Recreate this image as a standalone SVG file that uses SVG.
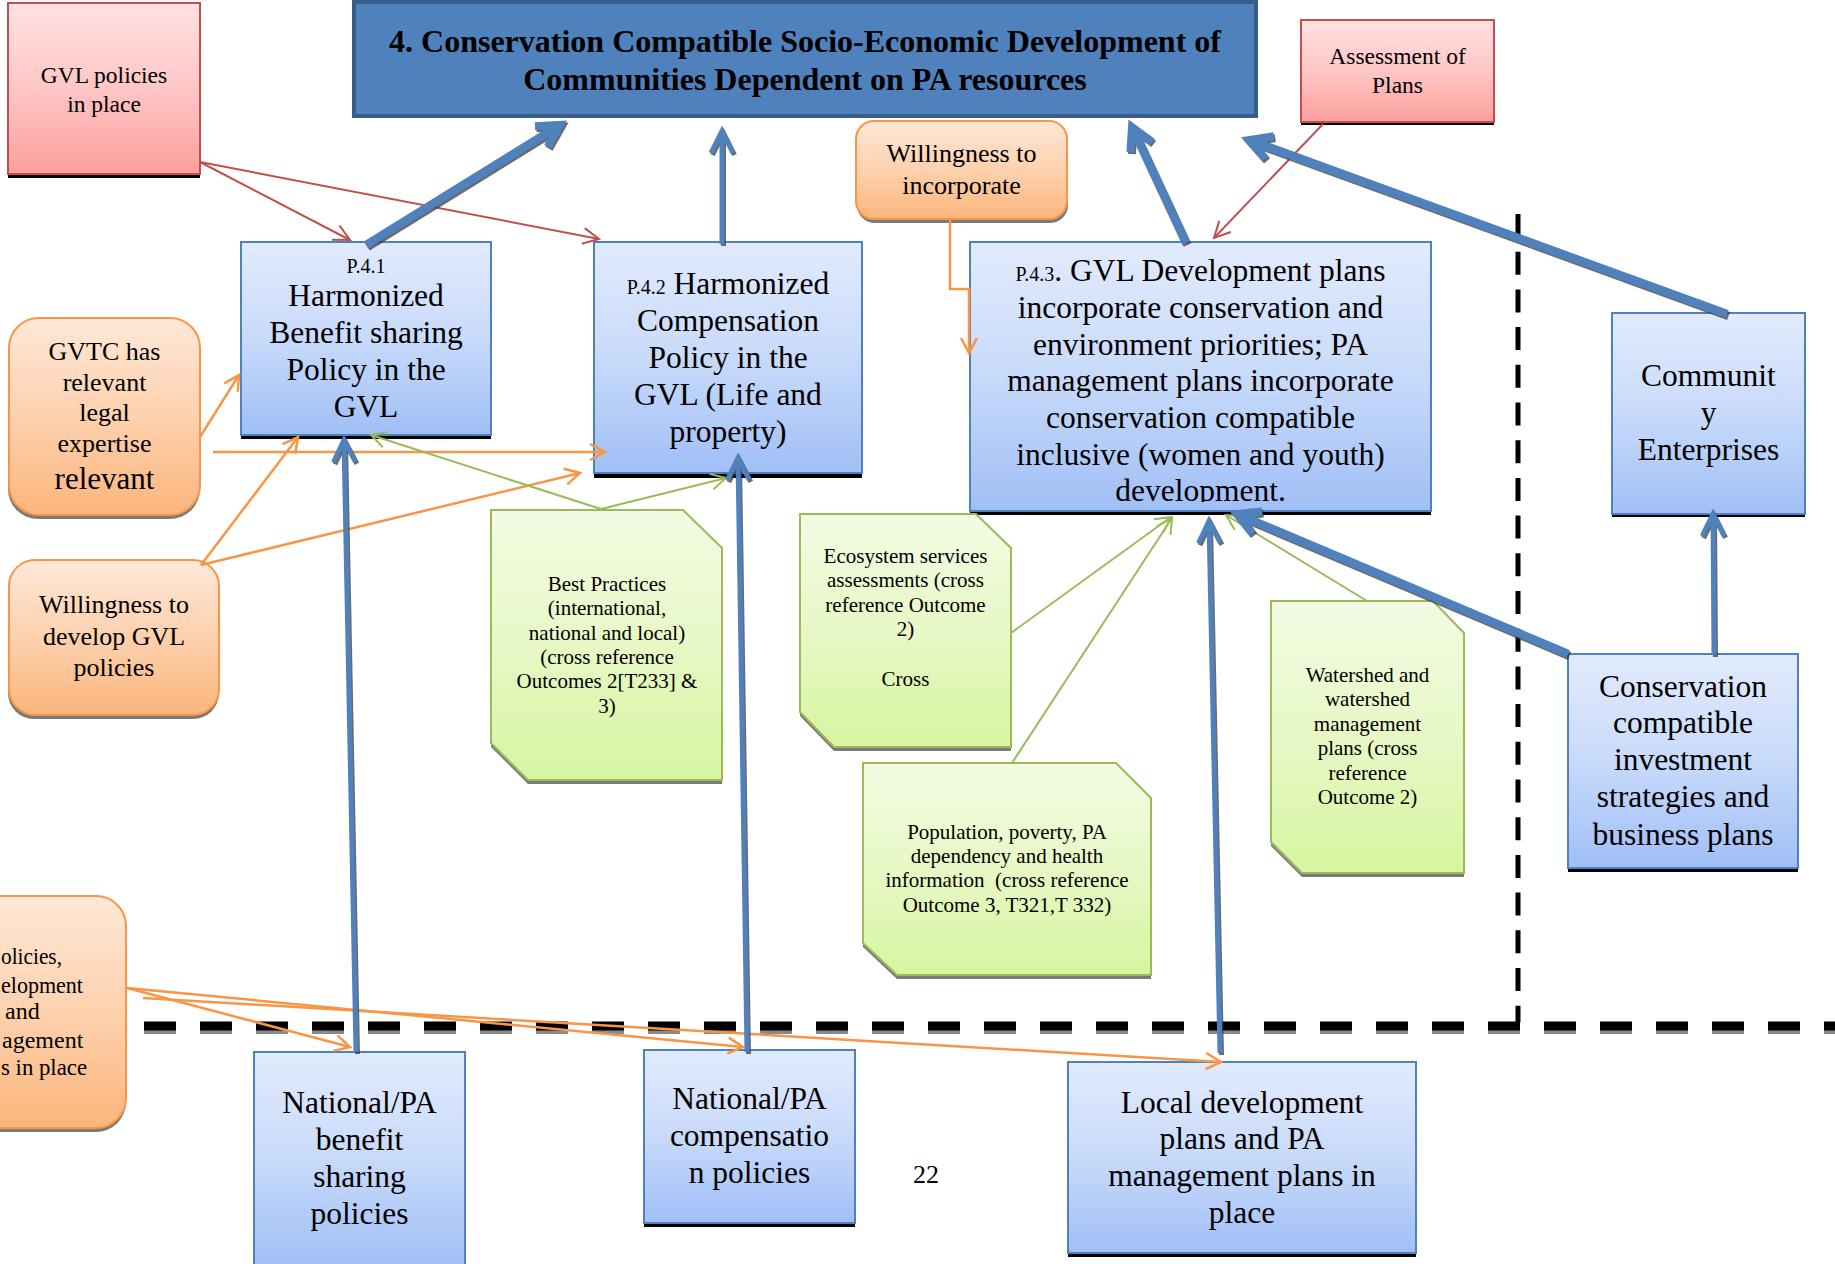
<svg xmlns="http://www.w3.org/2000/svg" width="1835" height="1264" viewBox="0 0 1835 1264">
  <style>
    text { font-family: "Liberation Serif", "Times New Roman", serif; fill: #000; text-anchor: middle; }
    .title { font-size: 32px; font-weight: bold; }
    .blue { font-size: 31.5px; }
    .code { font-size: 20px; }
    .pink { font-size: 23.5px; }
    .orange { font-size: 26px; }
    .orange-big { font-size: 31px; }
    .green { font-size: 21px; }
    .side { font-size: 24px; text-anchor: start; }
    .page { font-size: 26px; }
    .box-blue { fill: url(#gBlue); stroke: #4F81BD; stroke-width: 2; }
    .box-pink { fill: url(#gPink); stroke: #C0504D; stroke-width: 2; }
    .box-orange { fill: url(#gOrange); stroke: #F79646; stroke-width: 2; }
    .box-green { fill: url(#gGreen); stroke: #9BBB59; stroke-width: 2; }
    .shadow-black { fill: #000; }
    .shadow-gray { fill: #7a7a7a; }
    .c-blue { fill: none; stroke: #4F81BD; stroke-linecap: butt; }
    .c-blue-sh { fill: none; stroke: #3a3a3a; stroke-linecap: butt; opacity: 0.75; }
    .c-red { fill: none; stroke: #C0504D; stroke-width: 2; marker-end: url(#mRed); }
    .c-orange { fill: none; stroke: #F79646; stroke-width: 2.5; marker-end: url(#mOrange); }
    .c-green { fill: none; stroke: #9BBB59; stroke-width: 2; marker-end: url(#mGreen); }
    .w5 { stroke-width: 5; }
    .w8 { stroke-width: 8.5; }
  </style>
  <defs>
    <linearGradient id="gBlue" x1="0" y1="0" x2="0" y2="1">
      <stop offset="0" stop-color="#E2EBFD"/>
      <stop offset="0.5" stop-color="#C8DAFA"/>
      <stop offset="1" stop-color="#A0BFF6"/>
    </linearGradient>
    <linearGradient id="gPink" x1="0" y1="0" x2="0" y2="1">
      <stop offset="0" stop-color="#FFE2E2"/>
      <stop offset="0.5" stop-color="#FFC6C6"/>
      <stop offset="1" stop-color="#FB9E9C"/>
    </linearGradient>
    <linearGradient id="gOrange" x1="0" y1="0" x2="0" y2="1">
      <stop offset="0" stop-color="#FEE8D8"/>
      <stop offset="0.5" stop-color="#FDD1AE"/>
      <stop offset="1" stop-color="#FBB57C"/>
    </linearGradient>
    <linearGradient id="gGreen" x1="0" y1="0" x2="0" y2="1">
      <stop offset="0" stop-color="#F3FBE3"/>
      <stop offset="0.5" stop-color="#E7F8C6"/>
      <stop offset="1" stop-color="#D7F5A0"/>
    </linearGradient>
    <marker id="mBlue5" markerUnits="userSpaceOnUse" markerWidth="40" markerHeight="40" orient="auto" overflow="visible">
      <path d="M-22,-11 L0,0 L-22,11" fill="none" stroke="#4F81BD" stroke-width="5"/>
    </marker>
    <marker id="mBlue8" markerUnits="userSpaceOnUse" markerWidth="40" markerHeight="40" orient="auto" overflow="visible">
      <path d="M-22,-12 L0,0 L-22,12" fill="none" stroke="#4F81BD" stroke-width="8"/>
    </marker>
    <marker id="mSh5" markerUnits="userSpaceOnUse" markerWidth="40" markerHeight="40" orient="auto" overflow="visible">
      <path d="M-22,-11 L0,0 L-22,11" fill="none" stroke="#3a3a3a" stroke-width="5"/>
    </marker>
    <marker id="mSh8" markerUnits="userSpaceOnUse" markerWidth="40" markerHeight="40" orient="auto" overflow="visible">
      <path d="M-22,-12 L0,0 L-22,12" fill="none" stroke="#3a3a3a" stroke-width="8"/>
    </marker>
    <marker id="mRed" markerUnits="userSpaceOnUse" markerWidth="30" markerHeight="30" orient="auto" overflow="visible">
      <path d="M-16,-8 L0,0 L-16,8" fill="none" stroke="#C0504D" stroke-width="2"/>
    </marker>
    <marker id="mOrange" markerUnits="userSpaceOnUse" markerWidth="30" markerHeight="30" orient="auto" overflow="visible">
      <path d="M-15,-8 L0,0 L-15,8" fill="none" stroke="#F79646" stroke-width="2.5"/>
    </marker>
    <marker id="mGreen" markerUnits="userSpaceOnUse" markerWidth="30" markerHeight="30" orient="auto" overflow="visible">
      <path d="M-15,-8 L0,0 L-15,8" fill="none" stroke="#9BBB59" stroke-width="2"/>
    </marker>
    <clipPath id="clipP43">
      <rect x="970" y="242" width="461" height="260"/>
    </clipPath>
  </defs>

  <rect x="0" y="0" width="1835" height="1264" fill="#fff"/>

  <!-- boundary lines -->
  <g id="boundaries">
    <line x1="1518" y1="214" x2="1518" y2="1022" stroke="#000" stroke-width="5" stroke-dasharray="23 14.7"/>
    <line x1="144" y1="1032" x2="1835" y2="1032" stroke="#8a8a8a" stroke-width="4" stroke-dasharray="32 24"/>
    <line x1="144" y1="1026" x2="1835" y2="1026" stroke="#000" stroke-width="9" stroke-dasharray="32 24"/>
  </g>

  <!-- outcome -->
  <g id="n-title">
    <rect x="354" y="2" width="902" height="114" fill="#4F81BD" stroke="#385D8A" stroke-width="4"/>
    <text class="title" x="805" y="52">4. Conservation Compatible Socio-Economic Development of</text>
    <text class="title" x="805" y="90">Communities Dependent on PA resources</text>
  </g>

  <!-- assumptions / indicators -->
  <g id="n-gvl-policies">
    <rect class="shadow-black" x="8" y="172" width="192" height="6"/>
    <rect class="box-pink" x="8" y="3" width="192" height="171"/>
    <text class="pink" x="104" y="83">GVL policies</text>
    <text class="pink" x="104" y="112">in place</text>
  </g>

  <g id="n-assessment">
    <rect class="shadow-black" x="1301" y="120" width="193" height="5"/>
    <rect class="box-pink" x="1301" y="20" width="193" height="102"/>
    <text class="pink" x="1397.5" y="64">Assessment of</text>
    <text class="pink" x="1397.5" y="93">Plans</text>
  </g>

  <g id="n-willing-incorp">
    <rect class="shadow-gray" x="857" y="125" width="211" height="98" rx="18"/>
    <rect class="box-orange" x="856" y="121" width="211" height="98" rx="18"/>
    <text class="orange" x="961.5" y="162">Willingness to</text>
    <text class="orange" x="961.5" y="194">incorporate</text>
  </g>

  <g id="n-gvtc">
    <rect class="shadow-gray" x="8" y="322" width="192" height="197" rx="30"/>
    <rect class="box-orange" x="9" y="318" width="191" height="197" rx="30"/>
    <text class="orange" x="104.5" y="360">GVTC has</text>
    <text class="orange" x="104.5" y="391">relevant</text>
    <text class="orange" x="104.5" y="421">legal</text>
    <text class="orange" x="104.5" y="452">expertise</text>
    <text class="orange-big" x="104.5" y="489">relevant</text>
  </g>

  <g id="n-willing-dev">
    <rect class="shadow-gray" x="8" y="564" width="211" height="155" rx="26"/>
    <rect class="box-orange" x="9" y="560" width="210" height="155" rx="26"/>
    <text class="orange" x="114" y="613">Willingness to</text>
    <text class="orange" x="114" y="645">develop GVL</text>
    <text class="orange" x="114" y="676">policies</text>
  </g>

  <g id="n-left-policies">
    <rect class="shadow-gray" x="-100" y="900" width="226" height="232" rx="30"/>
    <rect class="box-orange" x="-100" y="896" width="226" height="232" rx="30"/>
    <text class="side" x="1" y="964" textLength="61" lengthAdjust="spacingAndGlyphs">olicies,</text>
    <text class="side" x="1" y="993" textLength="82" lengthAdjust="spacingAndGlyphs">elopment</text>
    <text class="side" x="5" y="1019">and</text>
    <text class="side" x="2" y="1048">agement</text>
    <text class="side" x="1" y="1075" textLength="86" lengthAdjust="spacingAndGlyphs">s in place</text>
  </g>

  <!-- outputs -->
  <g id="n-p41">
    <rect class="shadow-black" x="241" y="433" width="250" height="6"/>
    <rect class="box-blue" x="241" y="242" width="250" height="193"/>
    <text class="code" x="366" y="273">P.4.1</text>
    <text class="blue" x="366" y="306">Harmonized</text>
    <text class="blue" x="366" y="343">Benefit sharing</text>
    <text class="blue" x="366" y="380">Policy in the</text>
    <text class="blue" x="366" y="417">GVL</text>
  </g>

  <g id="n-p42">
    <rect class="shadow-black" x="594" y="471" width="268" height="7"/>
    <rect class="box-blue" x="594" y="242" width="268" height="231"/>
    <text class="blue" x="728" y="294"><tspan class="code">P.4.2</tspan> Harmonized</text>
    <text class="blue" x="728" y="331">Compensation</text>
    <text class="blue" x="728" y="368">Policy in the</text>
    <text class="blue" x="728" y="405">GVL (Life and</text>
    <text class="blue" x="728" y="442">property)</text>
  </g>

  <g id="n-p43">
    <rect class="shadow-black" x="970" y="509" width="461" height="6"/>
    <rect class="box-blue" x="970" y="242" width="461" height="269"/>
    <g clip-path="url(#clipP43)">
      <text class="blue" x="1200.5" y="281"><tspan class="code">P.4.3</tspan>. GVL Development plans</text>
      <text class="blue" x="1200.5" y="318">incorporate conservation and</text>
      <text class="blue" x="1200.5" y="355">environment priorities; PA</text>
      <text class="blue" x="1200.5" y="391">management plans incorporate</text>
      <text class="blue" x="1200.5" y="428">conservation compatible</text>
      <text class="blue" x="1200.5" y="465">inclusive (women and youth)</text>
      <text class="blue" x="1200.5" y="501">development.</text>
    </g>
  </g>

  <g id="n-community">
    <rect class="shadow-black" x="1612" y="512" width="193" height="5"/>
    <rect class="box-blue" x="1612" y="313" width="193" height="201"/>
    <text class="blue" x="1708.5" y="386">Communit</text>
    <text class="blue" x="1708.5" y="423">y</text>
    <text class="blue" x="1708.5" y="460">Enterprises</text>
  </g>

  <g id="n-conservation">
    <rect class="shadow-black" x="1568" y="866" width="230" height="6"/>
    <rect class="box-blue" x="1568" y="654" width="230" height="214"/>
    <text class="blue" x="1683" y="697">Conservation</text>
    <text class="blue" x="1683" y="733">compatible</text>
    <text class="blue" x="1683" y="770">investment</text>
    <text class="blue" x="1683" y="807">strategies and</text>
    <text class="blue" x="1683" y="845">business plans</text>
  </g>

  <!-- information sources -->
  <g id="n-best-practices">
    <path class="shadow-gray" d="M491,514 L683,514 L722,552 L722,784 L528,784 L491,747 Z"/>
    <path class="box-green" d="M491,510 L683,510 L722,548 L722,780 L528,780 L491,743 Z"/>
    <text class="green" x="607" y="591">Best Practices</text>
    <text class="green" x="607" y="615">(international,</text>
    <text class="green" x="607" y="640">national and local)</text>
    <text class="green" x="607" y="664">(cross reference</text>
    <text class="green" x="607" y="688">Outcomes 2[T233] &amp;</text>
    <text class="green" x="607" y="713">3)</text>
  </g>

  <g id="n-ecosystem">
    <path class="shadow-gray" d="M800,518 L976,518 L1011,552 L1011,751 L834,751 L800,716 Z"/>
    <path class="box-green" d="M800,514 L976,514 L1011,548 L1011,747 L834,747 L800,712 Z"/>
    <text class="green" x="905.5" y="563">Ecosystem services</text>
    <text class="green" x="905.5" y="587">assessments (cross</text>
    <text class="green" x="905.5" y="612">reference Outcome</text>
    <text class="green" x="905.5" y="636">2)</text>
    <text class="green" x="905.5" y="686">Cross</text>
  </g>

  <g id="n-population">
    <path class="shadow-gray" d="M863,767 L1116,767 L1151,802 L1151,979 L897,979 L863,947 Z"/>
    <path class="box-green" d="M863,763 L1116,763 L1151,798 L1151,975 L897,975 L863,943 Z"/>
    <text class="green" x="1007" y="839">Population, poverty, PA</text>
    <text class="green" x="1007" y="863">dependency and health</text>
    <text class="green" x="1007" y="887" xml:space="preserve">information  (cross reference</text>
    <text class="green" x="1007" y="912">Outcome 3, T321,T 332)</text>
  </g>

  <g id="n-watershed">
    <path class="shadow-gray" d="M1271,605 L1433,605 L1464,637 L1464,877 L1302,877 L1271,846 Z"/>
    <path class="box-green" d="M1271,601 L1433,601 L1464,633 L1464,873 L1302,873 L1271,842 Z"/>
    <text class="green" x="1367.5" y="682">Watershed and</text>
    <text class="green" x="1367.5" y="706">watershed</text>
    <text class="green" x="1367.5" y="731">management</text>
    <text class="green" x="1367.5" y="755">plans (cross</text>
    <text class="green" x="1367.5" y="780">reference</text>
    <text class="green" x="1367.5" y="804">Outcome 2)</text>
  </g>

  <!-- national / local policy level -->
  <g id="n-nat-benefit">
    <rect class="box-blue" x="254" y="1052" width="211" height="214"/>
    <text class="blue" x="359.5" y="1113">National/PA</text>
    <text class="blue" x="359.5" y="1150">benefit</text>
    <text class="blue" x="359.5" y="1187">sharing</text>
    <text class="blue" x="359.5" y="1224">policies</text>
  </g>

  <g id="n-nat-comp">
    <rect class="shadow-black" x="644" y="1221" width="211" height="6"/>
    <rect class="box-blue" x="644" y="1050" width="211" height="173"/>
    <text class="blue" x="749.5" y="1109">National/PA</text>
    <text class="blue" x="749.5" y="1146">compensatio</text>
    <text class="blue" x="749.5" y="1183">n policies</text>
  </g>

  <g id="n-local-plans">
    <rect class="shadow-black" x="1068" y="1251" width="348" height="6"/>
    <rect class="box-blue" x="1068" y="1062" width="348" height="191"/>
    <text class="blue" x="1242" y="1113">Local development</text>
    <text class="blue" x="1242" y="1149">plans and PA</text>
    <text class="blue" x="1242" y="1186">management plans in</text>
    <text class="blue" x="1242" y="1223">place</text>
  </g>

  <text id="page-number" class="page" x="926" y="1183">22</text>

  <!-- connectors -->
  <g id="connectors">
    <!-- red: policy / assessment inputs -->
    <line class="c-red" x1="200" y1="162" x2="350" y2="240"/>
    <line class="c-red" x1="200" y1="162" x2="599" y2="239"/>
    <line class="c-red" x1="1323" y1="124" x2="1214" y2="238"/>

    <!-- orange: assumptions -->
    <line class="c-orange" x1="200" y1="437" x2="239" y2="375"/>
    <line class="c-orange" x1="213" y1="452" x2="605" y2="452"/>
    <line class="c-orange" x1="201" y1="565" x2="298" y2="437"/>
    <line class="c-orange" x1="201" y1="565" x2="580" y2="473"/>
    <polyline class="c-orange" points="950,219 950,289 969,289 969,353"/>
    <line class="c-orange" x1="127" y1="988" x2="350" y2="1047"/>
    <line class="c-orange" x1="127" y1="988" x2="743" y2="1047"/>
    <line class="c-orange" x1="143" y1="998" x2="1221" y2="1062"/>

    <!-- green: information sources -->
    <line class="c-green" x1="601" y1="509" x2="371" y2="435"/>
    <line class="c-green" x1="601" y1="509" x2="726" y2="478"/>
    <line class="c-green" x1="1011" y1="633" x2="1171" y2="517"/>
    <line class="c-green" x1="1012" y1="763" x2="1172" y2="518"/>
    <line class="c-green" x1="1367" y1="601" x2="1226" y2="515"/>

    <!-- blue: results chain, shadow pass -->
    <g transform="translate(1.5,2)">
      <line class="c-blue-sh w8" x1="366" y1="245" x2="560" y2="125" marker-end="url(#mSh8)"/>
      <line class="c-blue-sh w5" x1="722" y1="244" x2="722" y2="131" marker-end="url(#mSh5)"/>
      <line class="c-blue-sh w8" x1="1186" y1="243" x2="1132" y2="127" marker-end="url(#mSh8)"/>
      <line class="c-blue-sh w8" x1="1727" y1="314" x2="1249" y2="140" marker-end="url(#mSh8)"/>
      <line class="c-blue-sh w5" x1="356" y1="1052" x2="344" y2="440" marker-end="url(#mSh5)"/>
      <line class="c-blue-sh w5" x1="747" y1="1052" x2="738" y2="458" marker-end="url(#mSh5)"/>
      <line class="c-blue-sh w5" x1="1220" y1="1053" x2="1209" y2="521" marker-end="url(#mSh5)"/>
      <line class="c-blue-sh w8" x1="1568" y1="654" x2="1237" y2="514" marker-end="url(#mSh8)"/>
      <line class="c-blue-sh w5" x1="1714" y1="655" x2="1713" y2="514" marker-end="url(#mSh5)"/>
    </g>
    <!-- blue: results chain -->
    <line class="c-blue w8" x1="366" y1="245" x2="560" y2="125" marker-end="url(#mBlue8)"/>
    <line class="c-blue w5" x1="722" y1="244" x2="722" y2="131" marker-end="url(#mBlue5)"/>
    <line class="c-blue w8" x1="1186" y1="243" x2="1132" y2="127" marker-end="url(#mBlue8)"/>
    <line class="c-blue w8" x1="1727" y1="314" x2="1249" y2="140" marker-end="url(#mBlue8)"/>
    <line class="c-blue w5" x1="356" y1="1052" x2="344" y2="440" marker-end="url(#mBlue5)"/>
    <line class="c-blue w5" x1="747" y1="1052" x2="738" y2="458" marker-end="url(#mBlue5)"/>
    <line class="c-blue w5" x1="1220" y1="1053" x2="1209" y2="521" marker-end="url(#mBlue5)"/>
    <line class="c-blue w8" x1="1568" y1="654" x2="1237" y2="514" marker-end="url(#mBlue8)"/>
    <line class="c-blue w5" x1="1714" y1="655" x2="1713" y2="514" marker-end="url(#mBlue5)"/>
  </g>
</svg>
